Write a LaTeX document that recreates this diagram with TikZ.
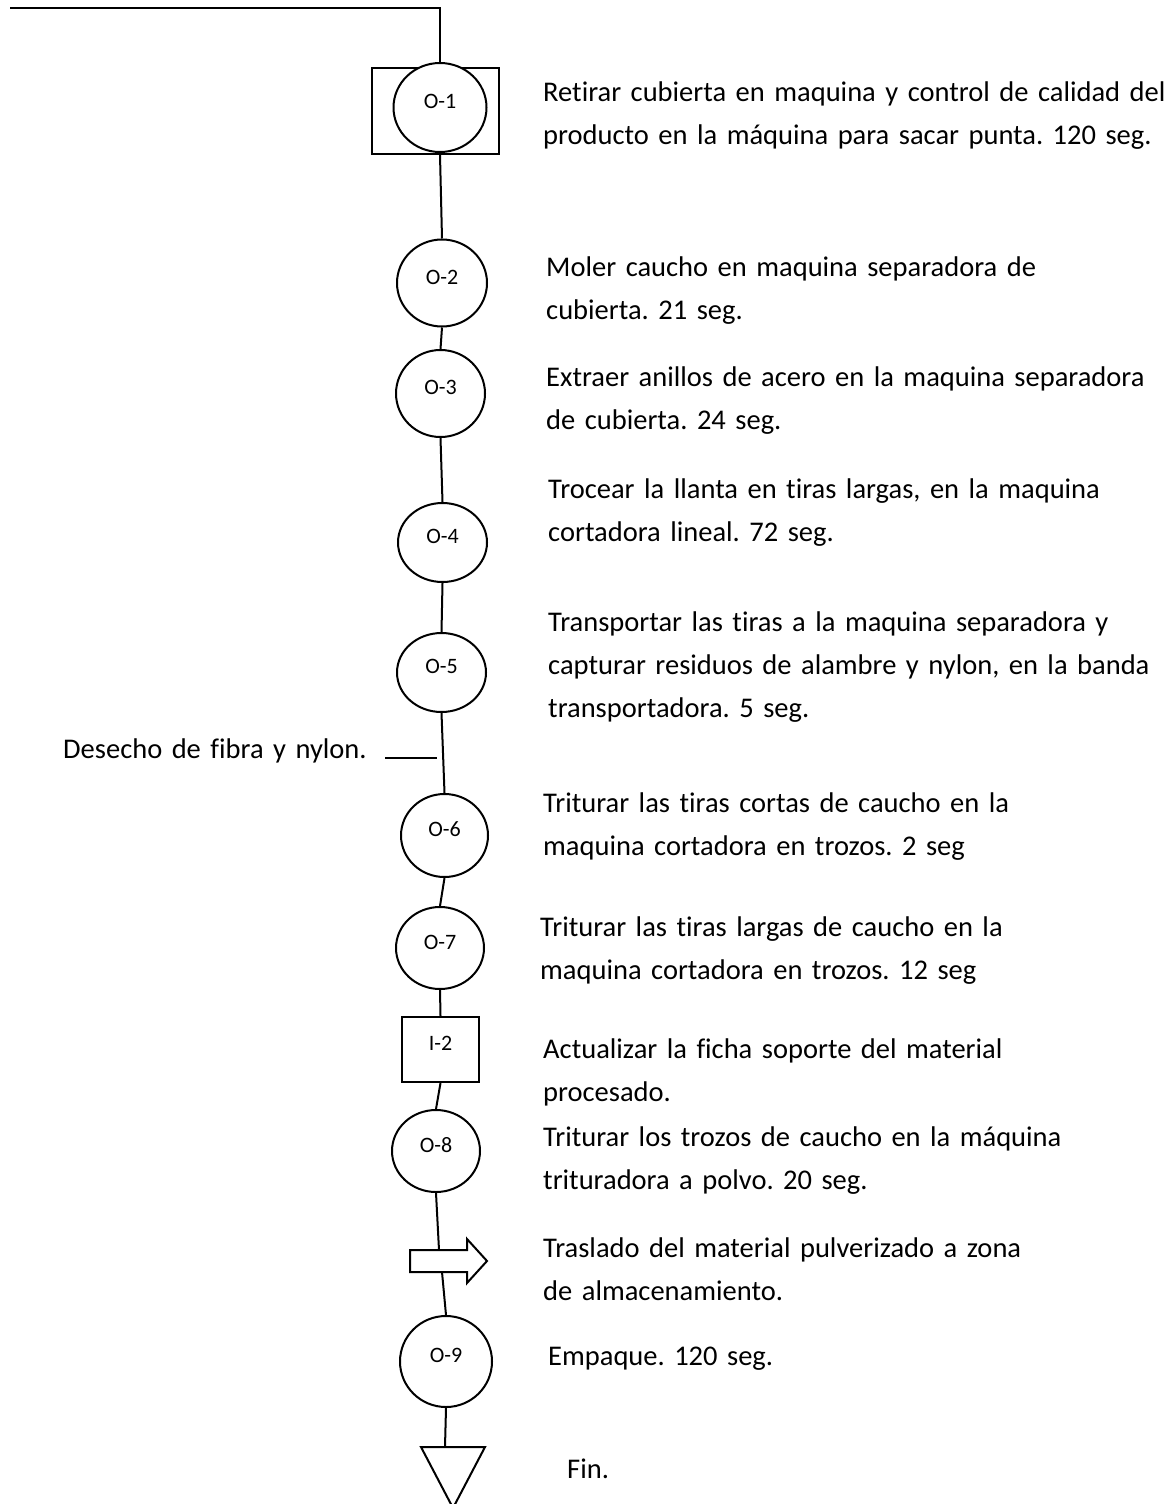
\documentclass[tikz,border=0pt]{standalone}
\usepackage{fontspec}
\setmainfont{Carlito}[Ligatures=NoCommon]
\usetikzlibrary{shapes.geometric}
\frenchspacing
\begin{document}
\begin{tikzpicture}[x=1pt,y=-1pt]
		\tikzstyle{oper}=[ellipse,draw,line width=2pt,fill=white,inner sep=0pt,text height=14pt,text depth=12pt,font=\fontsize{22}{26}\selectfont]
		\tikzstyle{paso}=[anchor=base west,inner sep=0pt,text width=700pt,align=left,font=\fontsize{28.5}{43}\selectfont]
		\tikzstyle{linea}=[line width=2pt]
		\useasboundingbox (0,0) rectangle (1174,1504);
		\fill[white] (0,0) rectangle (1174,1504);
		% simbolos
		\node[draw,line width=2pt,minimum width=127pt,minimum height=86pt] (r_1) at (435.5,111) {};
		\node[oper,minimum width=93pt,minimum height=89pt] (o_1) at (440,107.5) {O-1};
		\node[oper,minimum width=90pt,minimum height=87pt] (o_2) at (442,283) {O-2};
		\node[oper,minimum width=89pt,minimum height=87pt] (o_3) at (440.5,393.5) {O-3};
		\node[oper,minimum width=89pt,minimum height=79pt] (o_4) at (442.5,542.5) {O-4};
		\node[oper,minimum width=89pt,minimum height=79pt] (o_5) at (441.5,672.5) {O-5};
		\node[oper,minimum width=87pt,minimum height=83pt] (o_6) at (444.5,835.5) {O-6};
		\node[oper,minimum width=88pt,minimum height=82pt] (o_7) at (440,948) {O-7};
		\node[draw,line width=2pt,minimum width=77pt,minimum height=65pt,inner sep=0pt,text height=14pt,text depth=13pt,font=\fontsize{22}{26}\selectfont] (i_2) at (440.5,1049.5) {I-2};
		\node[oper,minimum width=88pt,minimum height=82pt] (o_8) at (436,1151) {O-8};
		\node[oper,minimum width=92pt,minimum height=91pt] (o_9) at (446,1361.5) {O-9};
		\draw[linea] (410,1250) -- (467,1250) -- (467,1239) -- (487,1261) -- (467,1283) -- (467,1272) -- (410,1272) -- cycle;
		\coordinate (f_a) at (439,1250);
		\coordinate (f_b) at (442,1272);
		\draw[linea] (421,1447) -- (485,1447) -- (453,1508) -- cycle;
		\coordinate (t_a) at (445,1447);
		% conectores
		\coordinate (inicio) at (10,8);
		\draw[linea] (inicio) -| (o_1.north);
		\draw[linea] (o_1 |- r_1.south) -- (o_2.north);
		\foreach \a/\b in {o_2/o_3,o_3/o_4,o_4/o_5,o_5/o_6,o_6/o_7,o_7/i_2,i_2/o_8}
			\draw[linea] (\a.south) -- (\b.north);
		\draw[linea] (o_8.south) -- (f_a);
		\draw[linea] (f_b) -- (o_9.north);
		\draw[linea] (o_9.south) -- (t_a);
		\coordinate (d_1) at (385,758);
		\coordinate (d_2) at (437,758);
		\draw[linea] (d_1) -- (d_2);
		% textos
		\node[paso] (desecho) at (63,758) {Desecho de fibra y nylon.};
		\node[paso] (t_1) at (543,101) {Retirar cubierta en maquina y control de calidad del\\producto en la máquina para sacar punta. 120 seg.};
		\node[paso] (t_2) at (546,276) {Moler caucho en maquina separadora de\\cubierta. 21 seg.};
		\node[paso] (t_3) at (546,386) {Extraer anillos de acero en la maquina separadora\\de cubierta. 24 seg.};
		\node[paso] (t_4) at (548,498) {Trocear la llanta en tiras largas, en la maquina\\cortadora lineal. 72 seg.};
		\node[paso] (t_5) at (548,631) {Transportar las tiras a la maquina separadora y\\capturar residuos de alambre y nylon, en la banda\\transportadora. 5 seg.};
		\node[paso] (t_6) at (543,812) {Triturar las tiras cortas de caucho en la\\maquina cortadora en trozos. 2 seg};
		\node[paso] (t_7) at (540,936) {Triturar las tiras largas de caucho en la\\maquina cortadora en trozos. 12 seg};
		\node[paso] (t_8) at (543,1058) {Actualizar la ficha soporte del material\\procesado.};
		\node[paso] (t_9) at (543,1146) {Triturar los trozos de caucho en la máquina\\trituradora a polvo. 20 seg.};
		\node[paso] (t_10) at (543,1257) {Traslado del material pulverizado a zona\\de almacenamiento.};
		\node[paso] (t_11) at (548,1365) {Empaque. 120 seg.};
		\node[paso] (t_12) at (567,1478) {Fin.};
	\end{tikzpicture}
\end{document}
